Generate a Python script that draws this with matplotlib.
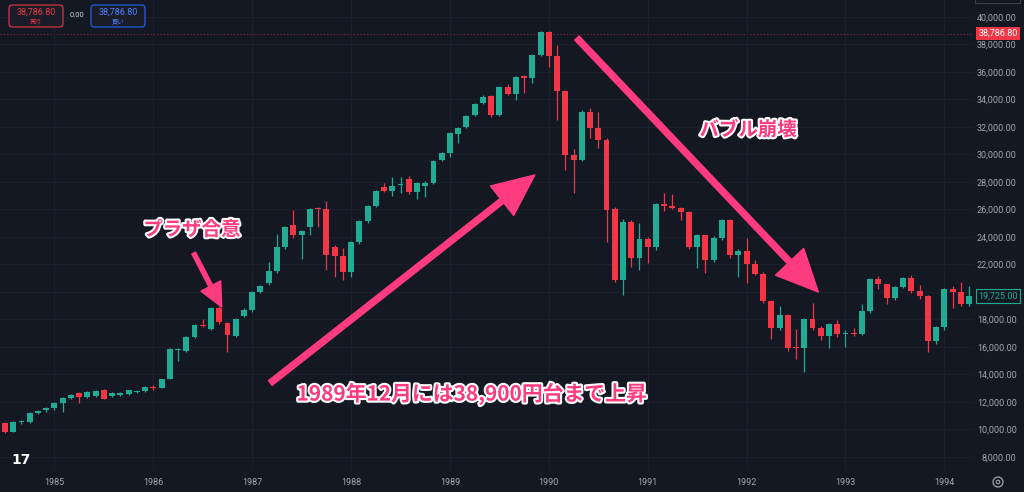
import numpy as np
import pandas as pd
import matplotlib
matplotlib.use('Agg')
import matplotlib.pyplot as plt
import matplotlib.patheffects as pe
from matplotlib.patches import FancyArrowPatch, FancyBboxPatch, Circle, Rectangle
from matplotlib.transforms import blended_transform_factory

plt.rcParams['font.family'] = ['Noto Sans CJK JP', 'DejaVu Sans']

# 日経平均 月足 (1984/07 - 1994/04), チャートから読み取り
months = pd.period_range('1984-07', '1994-04', freq='M')

opens = [10460, 9850, 10540, 10580, 11200, 11400,
         11540, 11930, 12290, 12650, 12360, 12450, 12870, 12430, 12500, 12580, 12720, 12800,
         13080, 13050, 13700, 15750, 15730, 16730, 17620, 17300, 18820, 17750, 16800, 18250,
         18700, 20030, 20650, 21540, 23270, 24870, 24150, 24700, 26060, 26000, 23270, 22620,
         21450, 23640, 25160, 26250, 27640, 27380, 27780, 28220, 27270, 27710, 27950, 29600,
         30130, 31500, 32000, 32870, 33740, 34250, 32870, 34930, 34400, 35700, 35560, 37270,
         38900, 37190, 34590, 29960, 29600, 33110, 31950, 31060, 26000, 20900, 25110, 22450,
         23850, 23290, 26410, 26290, 26110, 25790, 23290, 24120, 22335, 23916, 25222, 22687,
         22983, 22023, 21338, 19346, 17391, 18348, 15951, 15910, 18061, 17399, 16767, 17684,
         16925, 17023, 16953, 18591, 20919, 20552, 19590, 20380, 21027, 20106, 19703, 16408,
         17417, 20229, 19997, 19111]
highs = [10560, 10600, 10680, 11250, 11400, 11600,
         12000, 12350, 12560, 12700, 12780, 12850, 12950, 12700, 12700, 12900, 12900, 13150,
         13200, 13700, 15900, 15900, 16800, 17650, 18000, 18900, 18950, 17850, 18100, 18850,
         20100, 20500, 22180, 24200, 24800, 25960, 24500, 26100, 26150, 26620, 23400, 23200,
         23700, 25250, 26350, 27400, 27900, 28350, 28350, 28400, 28000, 28050, 29600, 30200,
         31600, 32000, 32850, 33750, 34300, 34350, 35000, 35130, 35700, 35800, 37300, 38957,
         38950, 37960, 34700, 30400, 33200, 33350, 33110, 31200, 26200, 25300, 25200, 25020,
         24000, 26500, 27220, 27150, 26200, 25900, 24200, 24150, 24100, 25300, 25300, 23100,
         23930, 22300, 21450, 19400, 18980, 18400, 17310, 18100, 19220, 17500, 17750, 17950,
         17250, 17350, 19130, 21000, 21150, 20600, 20450, 21100, 21240, 20500, 19800, 17550,
         20300, 20400, 20750, 20440]
lows = [9780, 9800, 10420, 10500, 11100, 11300,
        11450, 11250, 12250, 11950, 12300, 12350, 12200, 12380, 12450, 12520, 12650, 12750,
        12900, 13000, 13650, 14950, 15650, 16650, 17450, 17200, 17700, 15650, 16700, 18150,
        18550, 19950, 20500, 21400, 23100, 23930, 22400, 24150, 24700, 21600, 21090, 20870,
        21100, 23500, 25050, 26150, 27300, 27000, 27200, 27100, 26760, 26900, 27850, 29500,
        29800, 30850, 31900, 32800, 33650, 32700, 32800, 34300, 33960, 34500, 35200, 37150,
        36360, 32510, 28870, 27200, 29500, 31200, 30470, 23600, 20730, 19780, 21820, 21600,
        22110, 23050, 25860, 26000, 25240, 23100, 21740, 21380, 22200, 23800, 22500, 21110,
        20650, 21200, 19200, 16580, 17200, 15700, 15130, 14200, 17250, 16500, 15930, 16750,
        16000, 16800, 16900, 18450, 20200, 19150, 19450, 20300, 19950, 19500, 15660, 16250,
        17250, 18840, 19000, 18960]
closes = [9850, 10540, 10580, 11200, 11340, 11540,
          11930, 12290, 12510, 12360, 12730, 12800, 12220, 12630, 12650, 12870, 12760, 13080,
          13030, 13640, 15860, 15800, 16730, 17600, 17530, 18820, 17840, 16900, 18040, 18700,
          20020, 20400, 21540, 23270, 24700, 24150, 24440, 26040, 26010, 22700, 22620, 21450,
          23620, 25160, 26250, 27350, 27350, 27700, 27800, 27270, 27920, 27950, 29530, 30130,
          31560, 31930, 32800, 33670, 34180, 32870, 34910, 34400, 35640, 35560, 37230, 38915,
          37190, 34590, 29980, 29600, 33110, 31950, 31060, 25980, 20900, 25110, 22450, 23850,
          23290, 26410, 26290, 26110, 25790, 23290, 24120, 22335, 23916, 25222, 22687, 22983,
          22023, 21338, 19346, 17391, 18348, 15951, 15910, 18061, 17399, 16767, 17684, 16925,
          17023, 16953, 18591, 20919, 20552, 19590, 20380, 21027, 20106, 19703, 16408, 17417,
          20229, 19997, 19111, 19725]

year_ticks = list(range(1985, 1995))
price_ticks = list(range(8000, 40001, 2000))
current_price = 38786.80

BG = '#141823'
UP = '#22ab94'
DOWN = '#f23645'
PINK = '#ff3b7f'
GRID = '#1c202c'
TXT = '#a3a6af'

fig = plt.figure(figsize=(10.24, 4.92), dpi=100, facecolor=BG)
ax = fig.add_axes([0, 22 / 492, 973 / 1024, 470 / 492])
ax.set_facecolor(BG)

o = np.array(opens, float)
h = np.array(highs, float)
l = np.array(lows, float)
c = np.array(closes, float)
x = np.arange(len(months))
col = np.where(c >= o, UP, DOWN)

# ローソク足
ax.vlines(x, l, h, colors=col, linewidth=0.9, zorder=2)
ax.bar(x, np.maximum(np.abs(c - o), 90), bottom=np.minimum(o, c), width=0.72,
       color=col, linewidth=0, zorder=3)

ax.set_xlim(-5 / 8.24, 968 / 8.24)
ax.set_ylim(7053, 41236)

# 軸・グリッド
jan_idx = [int(np.where((months.year == y) & (months.month == 1))[0][0]) for y in year_ticks]
ax.set_xticks(jan_idx)
ax.set_xticklabels([str(y) for y in year_ticks])
ax.set_yticks(price_ticks)
ax.set_yticklabels([f'{p:,.2f}' for p in price_ticks])
ax.yaxis.tick_right()
ax.tick_params(axis='both', length=0, colors=TXT, labelsize=6.5, labelfontfamily='Roboto')
ax.tick_params(axis='y', pad=31.5)
ax.tick_params(axis='x', pad=6)
for lbl in ax.get_yticklabels():
    lbl.set_horizontalalignment('right')
ax.grid(True, color=GRID, linewidth=0.8, zorder=0)
for s in ax.spines.values():
    s.set_visible(False)

# 現在値ライン
ax.axhline(current_price, color=DOWN, alpha=0.55, linewidth=0.8, linestyle=(0, (1, 2)), zorder=1)
tr = blended_transform_factory(ax.transAxes, ax.transData)
ax.text(1.0257, current_price, f'{current_price:,.2f}', transform=tr, ha='center', va='center',
        color='white', fontsize=6.5, family='Roboto', clip_on=False, zorder=6,
        bbox=dict(boxstyle='square,pad=0.25', fc=DOWN, ec='none'))
ax.text(1.0257, closes[-1], f'{closes[-1]:,.2f}', transform=tr, ha='center', va='center',
        color=UP, fontsize=6.5, family='Roboto', clip_on=False, zorder=6,
        bbox=dict(boxstyle='square,pad=0.25', fc=BG, ec=UP, lw=0.8))

# 注釈 (矢印と文字)
halo = [pe.withStroke(linewidth=3, foreground='white')]
arrows = [
    ((22.9, 22830), (26.3, 18910), 'simple,head_length=17,head_width=16,tail_width=3'),
    ((32.2, 13380), (64.3, 28510), 'simple,head_length=30,head_width=27,tail_width=4.3'),
    ((69.4, 38470), (98.7, 20000), 'simple,head_length=30,head_width=28,tail_width=4.3'),
]
for tail, tip, style in arrows:
    ax.add_patch(FancyArrowPatch(tail, tip, arrowstyle=style, mutation_scale=1,
                                 color=PINK, shrinkA=0, shrinkB=0, zorder=7))

ax.text(22.7, 24510, 'プラザ合意', color=PINK, fontsize=14, fontweight='bold',
        ha='center', va='center', path_effects=halo, zorder=8)
ax.text(90.2, 31780, 'バブル崩壊', color=PINK, fontsize=14, fontweight='bold',
        ha='center', va='center', path_effects=halo, zorder=8)
ax.text(56.7, 12580, '1989年12月には38,900円台まで上昇', color=PINK, fontsize=15,
        fontweight='bold', ha='center', va='center', path_effects=halo, zorder=8)

# 画面上の部品 (ピクセル座標)
ov = fig.add_axes([0, 0, 1, 1])
ov.set_xlim(0, 1024)
ov.set_ylim(492, 0)
ov.axis('off')
ov.patch.set_alpha(0)

ov.add_patch(FancyBboxPatch((9, 5), 54, 22, boxstyle='round,pad=0,rounding_size=3',
                            fc='#1a1d28', ec=DOWN, lw=0.8))
ov.text(36, 12, '38,786.80', color=DOWN, fontsize=6.5, family='Roboto', ha='center', va='center')
ov.text(36, 21.5, '売り', color=DOWN, fontsize=4.5, ha='center', va='center')
ov.text(77, 15, '0.00', color='#d1d4dc', fontsize=5.5, family='Roboto', ha='center', va='center')
ov.add_patch(FancyBboxPatch((91, 5), 54, 22, boxstyle='round,pad=0,rounding_size=3',
                            fc='#1a1d28', ec='#2962ff', lw=0.8))
ov.text(118, 12, '38,786.80', color='#4f7fff', fontsize=6.5, family='Roboto', ha='center', va='center')
ov.text(118, 21.5, '買い', color='#4f7fff', fontsize=4.5, ha='center', va='center')

ov.add_patch(Rectangle((975, -2), 45, 5, fc='none', ec='#3a3e4a', lw=0.8))
ov.text(21, 460, '17', color='white', fontsize=10, fontweight='heavy', family='DejaVu Sans',
        ha='center', va='center')
ov.add_patch(Circle((998, 482), 5, fc='none', ec=TXT, lw=0.9))
ov.add_patch(Circle((998, 482), 1.8, fc='none', ec=TXT, lw=0.8))

fig.savefig('out.png', dpi=100, facecolor=BG)
